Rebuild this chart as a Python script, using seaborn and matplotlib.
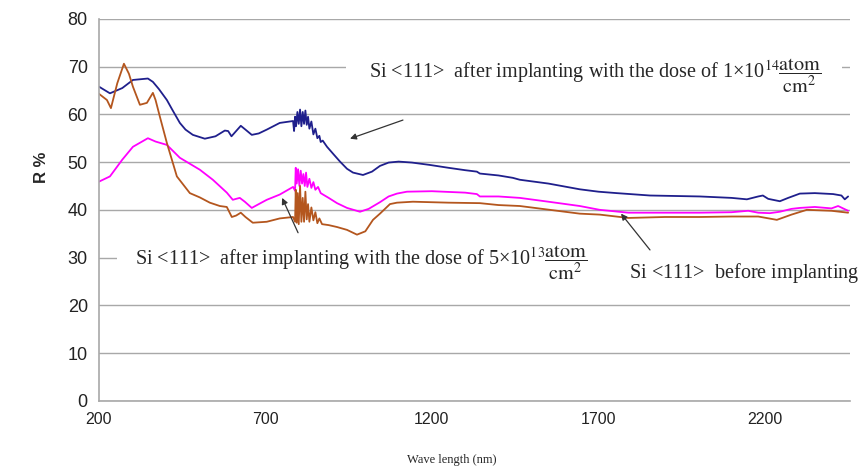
import pandas as pd
import matplotlib.pyplot as plt
import seaborn as sns

# wavelength (nm) and reflectance (%)
wl_dose14 = [200, 233, 270, 302, 347, 362, 380, 404, 420, 443, 460, 482, 518, 550, 578, 588, 598, 612, 626, 640,
             659, 680, 704, 743, 783, 786, 789, 792, 796, 800, 804, 808, 812, 816, 820, 824, 828, 832, 838, 844,
             850, 856, 862, 866, 872, 885, 905, 924, 945, 963, 993, 1020, 1044, 1070, 1100, 1140, 1194, 1250,
             1300, 1335, 1344, 1400, 1443, 1464, 1550, 1644, 1700, 1755, 1855, 2005, 2100, 2146, 2180, 2194, 2210,
             2245, 2270, 2305, 2350, 2405, 2430, 2440, 2450]
r_dose14 = [65.8, 64.4, 65.5, 67.2, 67.5, 66.8, 65.3, 63.0, 61.0, 58.2, 56.8, 55.7, 54.9, 55.4, 56.6, 56.5, 55.4,
            56.5, 57.6, 56.8, 55.7, 56.0, 56.8, 58.2, 58.6, 56.5, 59.5, 57.5, 60.5, 58.0, 61.0, 57.5, 60.5, 58.0,
            60.8, 57.8, 59.5, 57.0, 58.5, 55.8, 57.0, 55.0, 55.5, 54.2, 54.5, 53.2, 51.6, 50.1, 48.6, 47.8, 47.3,
            48.0, 49.2, 49.9, 50.1, 49.9, 49.4, 48.8, 48.3, 48.0, 47.6, 47.2, 46.7, 46.3, 45.5, 44.3, 43.8, 43.5,
            43.0, 42.8, 42.5, 42.2, 42.8, 43.0, 42.3, 41.8, 42.5, 43.4, 43.5, 43.3, 43.0, 42.2, 42.8]

wl_dose13 = [200, 233, 270, 302, 347, 370, 404, 443, 503, 542, 584, 602, 612, 623, 638, 659, 680, 704, 743, 783,
             789, 791, 794, 798, 802, 806, 810, 814, 818, 822, 826, 832, 838, 844, 850, 858, 866, 873, 890, 915,
             945, 984, 1010, 1044, 1070, 1095, 1125, 1200, 1300, 1335, 1344, 1400, 1464, 1550, 1644, 1704, 1790,
             1900, 2005, 2100, 2150, 2180, 2215, 2245, 2280, 2305, 2350, 2400, 2420, 2450]
r_dose13 = [45.9, 47.0, 50.5, 53.2, 55.0, 54.3, 53.6, 50.9, 48.4, 46.3, 43.6, 42.1, 42.3, 42.5, 41.7, 40.4, 41.2,
            42.1, 43.2, 44.8, 44.0, 48.8, 45.5, 48.5, 45.0, 48.2, 45.5, 47.5, 45.0, 47.8, 44.8, 46.5, 44.6, 45.8,
            44.2, 44.8, 43.5, 43.2, 42.5, 41.4, 40.4, 39.6, 40.2, 41.6, 42.8, 43.4, 43.8, 43.9, 43.6, 43.3, 42.8,
            42.8, 42.5, 41.7, 40.8, 40.0, 39.4, 39.4, 39.4, 39.5, 39.8, 39.4, 39.3, 39.6, 40.2, 40.4, 40.6, 40.3,
            40.8, 39.8]

wl_before = [200, 224, 236, 255, 275, 290, 302, 323, 344, 362, 370, 383, 404, 434, 473, 503, 533, 563, 584, 599,
             612, 626, 640, 662, 704, 743, 783, 789, 791, 794, 797, 800, 804, 808, 812, 816, 820, 824, 828, 832,
             838, 844, 850, 856, 862, 870, 890, 915, 945, 975, 1000, 1023, 1044, 1074, 1095, 1143, 1250, 1344,
             1400, 1464, 1554, 1644, 1704, 1790, 1900, 2005, 2100, 2180, 2236, 2280, 2326, 2400, 2450]
r_before = [64.3, 63.0, 61.3, 66.5, 70.6, 68.5, 65.8, 62.0, 62.4, 64.5, 63.0, 59.5, 54.0, 47.0, 43.5, 42.6, 41.5,
            40.8, 40.6, 38.5, 38.8, 39.4, 38.5, 37.3, 37.5, 38.2, 38.5, 37.5, 44.2, 37.3, 43.5, 37.0, 45.0, 37.5,
            42.5, 37.5, 43.8, 38.0, 41.2, 37.5, 40.5, 37.8, 39.5, 37.2, 38.2, 37.0, 36.8, 36.4, 35.8, 34.8, 35.5,
            37.9, 39.2, 41.2, 41.5, 41.7, 41.5, 41.4, 41.0, 40.8, 40.0, 39.2, 39.0, 38.3, 38.5, 38.5, 38.6, 38.6,
            37.9, 39.0, 40.0, 39.8, 39.4]

sns.set_style("white")
plt.rcParams['mathtext.fontset'] = 'stix'

fig = plt.figure(figsize=(8.68, 4.71), dpi=100)
ax = fig.add_axes([0.114, 0.149, 0.865, 0.811])

sns.lineplot(x=wl_dose14, y=r_dose14, ax=ax, color='#1f1f8c', lw=1.3, sort=False)
sns.lineplot(x=wl_dose13, y=r_dose13, ax=ax, color='#ff00ff', lw=1.3, sort=False)
sns.lineplot(x=wl_before, y=r_before, ax=ax, color='#b4561e', lw=1.3, sort=False)

ax.set_xlim(200, 2455)
ax.set_ylim(0, 80)
ax.set_xticks([200, 700, 1200, 1700, 2200])
ax.set_yticks(range(0, 81, 10))
ax.yaxis.grid(True, color='#a8a8a8', lw=1.0)
ax.set_axisbelow(True)
for s in ['top', 'right']:
    ax.spines[s].set_visible(False)
for s in ['left', 'bottom']:
    ax.spines[s].set_color('#a8a8a8')
    ax.spines[s].set_linewidth(1.2)
ax.tick_params(axis='both', which='both', direction='out', length=4, color='#a8a8a8', width=1, pad=4)
for lab in ax.get_yticklabels():
    lab.set_fontfamily(['Liberation Sans', 'DejaVu Sans'])
    lab.set_fontsize(13)
    lab.set_color('#222222')
for lab in ax.get_xticklabels():
    lab.set_fontfamily(['Liberation Sans', 'DejaVu Sans'])
    lab.set_fontsize(11.5)
    lab.set_color('#222222')
ax.set_xlabel('')
ax.set_ylabel('')

serif = ['Liberation Serif', 'DejaVu Serif']
box = dict(facecolor='white', edgecolor='none', boxstyle='square,pad=0.15')
frac = r"$\dfrac{\mathrm{atom}}{\mathrm{cm}^{2}}$"
ax.text(950, 68.0, "    Si <111>  after implanting with the dose of 1\u00d710$^{14}$" + frac + "    ",
        family=serif, fontsize=14.5, va='center', ha='left', bbox=box, zorder=3)
ax.text(262, 28.9, "   Si <111>  after implanting with the dose of 5\u00d710$^{13}$" + frac,
        family=serif, fontsize=14.5, va='center', ha='left', bbox=box, zorder=4)
ax.text(1697, 26.8, r"$\,$" + "      Si <111>  before implanting",
        family=serif, fontsize=14.5, va='center', ha='left', zorder=3,
        bbox=dict(facecolor='white', edgecolor='none', boxstyle='square,pad=0.6'))

arrow = dict(arrowstyle='-|>', color='#333333', lw=0.9, mutation_scale=9, shrinkA=0, shrinkB=0)
ax.annotate('', xy=(954, 54.9), xytext=(1113, 58.8), arrowprops=arrow)
ax.annotate('', xy=(750, 42.5), xytext=(798, 35.2), arrowprops=arrow)
ax.annotate('', xy=(1768, 39.2), xytext=(1855, 31.6), arrowprops=arrow)

fig.text(452 / 868, 1 - 460 / 471, 'Wave length (nm)', family=serif, fontsize=9,
         ha='center', va='center')
fig.text(42 / 868, 1 - 167 / 471, 'R %', family=['Liberation Sans', 'DejaVu Sans'], fontsize=12,
         fontweight='bold', rotation=90, ha='center', va='center')

fig.savefig('out.png', dpi=100)
